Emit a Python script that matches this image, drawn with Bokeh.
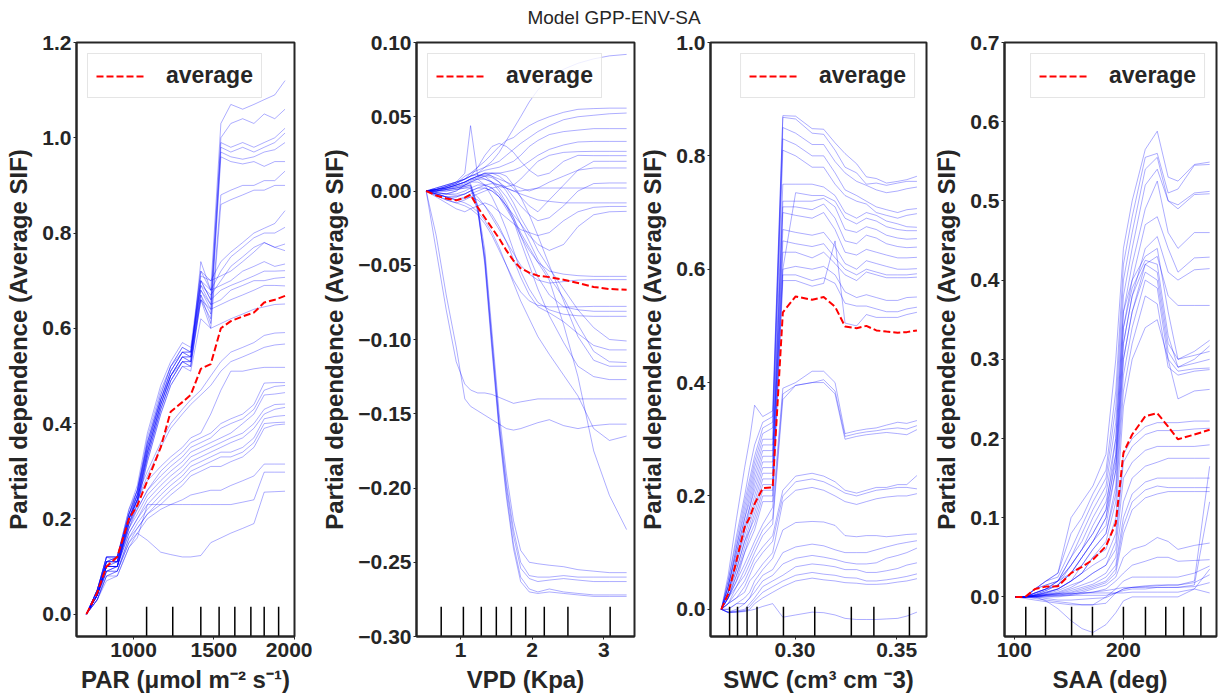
from bokeh.plotting import figure
from bokeh.models import FixedTicker, CustomJSTickFormatter, Range1d, Div
from bokeh.layouts import row, column
from bokeh.embed import file_html
from bokeh.resources import INLINE

# ---------------- DATA ----------------
TITLE = "Model GPP-ENV-SA"
YLABEL = "Partial dependence (Average SIF)"

# Panel 1: PAR
PAR_GRID = [706, 773, 831, 898, 971, 1023, 1086, 1169, 1231, 1304, 1356, 1419, 1481, 1544, 1606, 1680, 1750, 1814, 1880, 1944]
PAR_AVG = [0, .045, .10, .12, .20, .228, .28, .35, .425, .445, .46, .515, .525, .60, .615, .625, .633, .654, .66, .668]
PAR_DECILES = [831, 1081, 1244, 1419, 1533, 1631, 1731, 1814, 1904]
PAR_ICE = [
    [0, .05, .12, .12, .22, .27, .38, .48, .53, .57, .56, .72, .68, 1.03, 1.07, 1.06, 1.07, 1.08, 1.09, 1.12],
    [0, .05, .12, .11, .21, .26, .37, .47, .52, .56, .55, .70, .66, 1.00, 1.03, 1.04, 1.03, 1.05, 1.04, 1.06],
    [0, .05, .11, .12, .22, .26, .36, .46, .52, .55, .55, .69, .65, .99, .98, .99, .98, .99, 1.00, 1.02],
    [0, .04, .11, .11, .21, .25, .36, .45, .51, .55, .54, .68, .64, .98, .97, .98, .97, .98, .99, 1.01],
    [0, .04, .10, .11, .20, .25, .35, .45, .50, .54, .54, .67, .63, .97, .96, .955, .96, .97, .975, .99],
    [0, .04, .10, .10, .20, .24, .34, .44, .50, .54, .53, .66, .62, .96, .95, .945, .95, .94, .95, .95],
    [0, .04, .10, .10, .20, .24, .34, .44, .50, .53, .53, .67, .61, .88, .89, .90, .90, .91, .91, .93],
    [0, .04, .10, .10, .19, .24, .33, .43, .49, .53, .52, .66, .60, .86, .87, .88, .89, .89, .90, .90],
    [0, .05, .12, .12, .21, .26, .36, .46, .52, .56, .55, .71, .70, .74, .76, .78, .80, .81, .82, .847],
    [0, .05, .11, .12, .21, .26, .35, .45, .51, .55, .55, .70, .68, .72, .75, .77, .79, .80, .80, .812],
    [0, .04, .11, .11, .20, .25, .35, .45, .51, .55, .54, .69, .67, .70, .73, .75, .77, .78, .77, .777],
    [0, .04, .11, .11, .20, .25, .34, .44, .50, .54, .54, .72, .70, .71, .72, .74, .76, .78, .77, .763],
    [0, .04, .10, .11, .20, .24, .34, .44, .50, .54, .53, .74, .68, .69, .70, .72, .73, .74, .73, .735],
    [0, .04, .10, .10, .19, .24, .33, .43, .49, .53, .53, .70, .66, .68, .69, .70, .71, .72, .72, .721],
    [0, .04, .10, .10, .19, .23, .33, .43, .49, .53, .52, .68, .65, .66, .68, .69, .70, .70, .705, .707],
    [0, .04, .09, .10, .19, .23, .32, .42, .48, .52, .52, .66, .64, .65, .66, .67, .68, .69, .69, .689],
    [0, .04, .09, .10, .18, .23, .32, .42, .48, .52, .51, .62, .60, .61, .62, .63, .64, .645, .65, .651],
    [0, .05, .12, .12, .21, .25, .30, .36, .40, .43, .45, .47, .50, .53, .55, .56, .57, .585, .59, .591],
    [0, .05, .11, .12, .20, .24, .29, .35, .39, .42, .44, .46, .48, .51, .53, .54, .55, .56, .565, .567],
    [0, .05, .12, .12, .20, .24, .28, .31, .33, .35, .37, .38, .42, .47, .51, .51, .515, .518, .518, .518],
    [0, .05, .11, .11, .19, .22, .26, .30, .32, .34, .36, .37, .38, .40, .41, .42, .44, .485, .486, .486],
    [0, .04, .11, .11, .18, .22, .26, .29, .31, .33, .35, .36, .37, .39, .40, .41, .43, .47, .478, .48],
    [0, .04, .10, .10, .18, .21, .25, .28, .30, .32, .34, .35, .36, .37, .38, .40, .42, .46, .462, .465],
    [0, .04, .10, .10, .17, .20, .24, .27, .29, .31, .33, .34, .35, .36, .37, .38, .40, .43, .44, .441],
    [0, .04, .09, .10, .17, .20, .23, .26, .28, .30, .32, .33, .34, .35, .36, .37, .39, .42, .43, .434],
    [0, .04, .09, .09, .16, .19, .22, .25, .27, .29, .31, .32, .33, .34, .34, .35, .37, .41, .415, .417],
    [0, .03, .09, .09, .16, .18, .21, .24, .26, .28, .30, .31, .32, .33, .33, .34, .36, .40, .402, .403],
    [0, .03, .08, .09, .15, .18, .21, .23, .25, .27, .29, .30, .31, .31, .32, .33, .35, .39, .397, .399],
    [0, .03, .08, .09, .15, .17, .20, .22, .23, .24, .25, .255, .26, .26, .27, .28, .29, .315, .315, .315],
    [0, .03, .08, .08, .14, .16, .23, .23, .23, .23, .23, .23, .23, .23, .23, .235, .24, .298, .298, .298],
    [0, .03, .07, .08, .14, .17, .155, .13, .125, .12, .12, .123, .15, .16, .17, .18, .19, .256, .257, .258],
]

# Panel 2: VPD
VPD_GRID = [0.52, 0.66, 0.80, 0.94, 1.06, 1.14, 1.24, 1.34, 1.44, 1.54, 1.64, 1.74, 1.84, 1.96, 2.08, 2.24, 2.44, 2.64, 2.86, 3.08, 3.32]
VPD_AVG = [0, -.003, -.005, -.0063, -.0045, -.0025, -.011, -.018, -.025, -.032, -.040, -.047, -.052, -.055, -.057, -.058, -.0597, -.062, -.0646, -.066, -.0665]
VPD_DECILES = [0.73, 1.04, 1.29, 1.50, 1.71, 1.91, 2.17, 2.50, 3.09]
VPD_ICE = [
    [0, .002, .004, .006, .008, .010, .012, .016, .020, .026, .034, .042, .050, .060, .068, .076, .082, .086, .089, .091, .092],
    [0, .002, .004, .006, .008, .012, .016, .020, .025, .030, .034, .036, .040, .044, .047, .050, .053, .055, .0555, .0558, .0558],
    [0, .001, .003, .005, .010, .012, .014, .016, .018, .020, .024, .028, .032, .036, .040, .044, .048, .050, .051, .052, .0525],
    [0, .001, .003, .005, .008, .010, .012, .014, .015, .016, .018, .020, .024, .030, .034, .038, .040, .041, .042, .042, .042],
    [0, .001, .002, .004, .006, .008, .010, .012, .012, .012, .013, .014, .016, .020, .024, .028, .031, .033, .0334, .0334, .0334],
    [0, .002, .004, .006, .012, .044, .010, .008, .006, .004, .003, .004, .008, .014, .020, .024, .026, .0265, .0267, .0267, .0267],
    [0, .001, .003, .006, .008, .010, .016, .024, .030, .032, .030, .026, .020, .014, .010, .012, .020, .024, .0238, .0238, .0238],
    [0, .001, .002, .004, .006, .008, .010, .012, .012, .010, .006, .002, -.004, -.010, -.014, -.006, .004, .014, .020, .020, .020],
    [0, 0, .002, .004, .006, .008, .010, .011, .010, .008, .006, .004, .002, 0, .002, .006, .010, .014, .0155, .0155, .0155],
    [0, 0, .001, .003, .005, .007, .009, .010, .009, .006, .002, -.004, -.010, -.016, -.020, -.018, -.010, 0, .005, .0054, .0054],
    [0, -.002, -.004, -.004, -.002, 0, .002, .004, .005, .004, .002, 0, 0, .001, .002, .002, .002, .002, .002, .002, .002],
    [0, -.003, -.006, -.008, -.006, -.004, -.002, 0, .002, .003, .002, 0, -.002, -.004, -.006, -.007, -.008, -.008, -.008, -.008, -.008],
    [0, -.004, -.008, -.012, -.014, -.012, -.010, -.008, -.010, -.014, -.018, -.022, -.026, -.028, -.030, -.028, -.020, -.014, -.011, -.0104, -.0104],
    [0, -.002, -.004, -.006, -.004, -.002, 0, .002, 0, -.004, -.010, -.016, -.022, -.030, -.036, -.040, -.036, -.024, -.016, -.014, -.0137],
    [0, -.001, -.002, 0, .004, .006, .006, .004, .002, -.004, -.012, -.020, -.030, -.040, -.048, -.054, -.056, -.057, -.0575, -.0575, -.0575],
    [0, -.002, -.004, -.004, -.002, 0, -.004, -.010, -.018, -.026, -.034, -.042, -.050, -.056, -.060, -.062, -.061, -.060, -.0597, -.0597, -.0597],
    [0, -.003, -.006, -.008, -.010, -.012, -.016, -.022, -.030, -.040, -.050, -.060, -.068, -.074, -.077, -.078, -.078, -.078, -.0777, -.0777, -.0777],
    [0, .001, .003, .005, .008, .010, .011, .010, .006, 0, -.008, -.018, -.030, -.044, -.058, -.070, -.078, -.080, -.081, -.081, -.081],
    [0, 0, .002, .004, .006, .008, .008, .004, -.004, -.014, -.026, -.040, -.054, -.066, -.075, -.080, -.083, -.084, -.0844, -.0844, -.0844],
    [0, .001, .002, .004, .006, .008, .010, .012, .010, .006, 0, -.008, -.018, -.028, -.040, -.052, -.066, -.080, -.092, -.100, -.101],
    [0, -.002, -.004, -.006, -.005, -.004, -.006, -.010, -.016, -.024, -.034, -.046, -.058, -.070, -.078, -.082, -.088, -.096, -.104, -.107, -.107],
    [0, -.002, -.002, 0, .004, .006, .008, .008, .006, .002, -.004, -.012, -.022, -.034, -.046, -.058, -.072, -.090, -.108, -.115, -.1155],
    [0, 0, .001, .002, .004, .006, .008, .010, .012, .012, .010, .004, -.004, -.016, -.030, -.050, -.074, -.098, -.114, -.118, -.118],
    [0, -.001, -.002, -.002, 0, .002, .004, .004, .002, -.002, -.010, -.020, -.034, -.050, -.066, -.084, -.102, -.118, -.125, -.127, -.127],
    [0, -.040, -.080, -.115, -.130, -.134, -.136, -.136, -.137, -.139, -.141, -.143, -.142, -.141, -.140, -.140, -.140, -.140, -.140, -.140, -.140],
    [0, -.030, -.070, -.105, -.140, -.145, -.148, -.151, -.154, -.157, -.160, -.161, -.160, -.158, -.156, -.154, -.158, -.160, -.158, -.157, -.157],
    [0, -.002, -.004, -.006, -.008, -.010, -.014, -.020, -.028, -.038, -.050, -.062, -.074, -.086, -.098, -.110, -.124, -.138, -.160, -.168, -.165],
    [0, -.001, -.002, -.003, -.002, 0, .002, .002, 0, -.004, -.010, -.018, -.028, -.038, -.048, -.060, -.090, -.125, -.175, -.205, -.228],
    [0, .001, .002, .003, .004, .005, -.010, -.040, -.095, -.150, -.190, -.222, -.242, -.250, -.251, -.252, -.253, -.255, -.256, -.257, -.257],
    [0, 0, .001, .002, .003, .004, -.012, -.044, -.100, -.155, -.196, -.228, -.250, -.259, -.260, -.260, -.259, -.260, -.260, -.260, -.260],
    [0, 0, 0, .001, .002, .002, -.014, -.046, -.102, -.158, -.199, -.232, -.254, -.261, -.263, -.262, -.261, -.262, -.263, -.263, -.263],
    [0, 0, 0, .001, .002, .003, -.012, -.048, -.105, -.160, -.203, -.238, -.260, -.268, -.270, -.268, -.270, -.271, -.272, -.272, -.272],
    [0, 0, .001, .002, .003, .004, -.010, -.050, -.108, -.162, -.206, -.241, -.263, -.270, -.271, -.270, -.271, -.272, -.273, -.273, -.273],
]

# Panel 3: SWC
SWC_GRID = [0.2637, 0.2671, 0.2712, 0.2752, 0.2777, 0.2801, 0.2841, 0.2890, 0.2940, 0.3003, 0.3084, 0.3141, 0.3197, 0.3246, 0.3303, 0.3351, 0.3400, 0.3450, 0.3505, 0.3550, 0.3600]
SWC_AVG = [0, .027, .086, .145, .162, .186, .2136, .215, .524, .552, .546, .551, .534, .499, .496, .500, .492, .490, .488, .489, .492]
SWC_DECILES = [0.2678, 0.2717, 0.2764, 0.2813, 0.2943, 0.3097, 0.3277, 0.3388, 0.3563]
SWC_ICE = [
    [0, .06, .16, .25, .30, .36, .34, .35, .871, .870, .848, .847, .823, .804, .786, .763, .760, .752, .755, .758, .764],
    [0, .05, .13, .20, .25, .29, .33, .34, .868, .865, .840, .838, .810, .780, .770, .750, .752, .748, .752, .755, .755],
    [0, .05, .12, .19, .23, .27, .32, .33, .850, .840, .820, .820, .790, .770, .755, .748, .740, .735, .738, .742, .745],
    [0, .04, .11, .18, .22, .26, .31, .32, .830, .820, .800, .800, .770, .740, .730, .720, .710, .705, .700, .705, .707],
    [0, .04, .11, .17, .21, .25, .30, .30, .810, .800, .780, .780, .750, .730, .720, .715, .700, .695, .690, .695, .698],
    [0, .04, .10, .16, .20, .24, .29, .29, .750, .750, .750, .745, .730, .700, .690, .700, .695, .685, .680, .675, .674],
    [0, .04, .10, .16, .19, .23, .28, .28, .600, .735, .730, .730, .720, .690, .680, .690, .685, .675, .670, .668, .668],
    [0, .03, .09, .15, .18, .22, .27, .27, .720, .720, .720, .725, .710, .670, .665, .675, .670, .660, .655, .653, .654],
    [0, .03, .09, .14, .18, .21, .26, .26, .710, .710, .705, .715, .690, .650, .645, .660, .655, .645, .640, .638, .639],
    [0, .03, .08, .14, .17, .20, .25, .25, .700, .695, .690, .700, .670, .630, .625, .635, .630, .625, .620, .620, .621],
    [0, .03, .08, .13, .16, .19, .24, .24, .670, .665, .660, .665, .640, .610, .600, .615, .610, .605, .600, .600, .601],
    [0, .03, .07, .12, .15, .18, .23, .23, .650, .645, .640, .645, .620, .600, .590, .600, .595, .590, .590, .590, .592],
    [0, .02, .07, .12, .14, .17, .22, .22, .630, .630, .620, .630, .610, .590, .580, .595, .590, .585, .585, .585, .586],
    [0, .02, .06, .11, .14, .16, .21, .21, .600, .605, .600, .605, .590, .560, .550, .555, .550, .545, .545, .550, .551],
    [0, .02, .06, .10, .13, .15, .20, .20, .590, .590, .580, .585, .575, .540, .535, .535, .530, .525, .525, .530, .533],
    [0, .02, .05, .10, .12, .14, .19, .19, .580, .580, .570, .575, .650, .505, .500, .520, .515, .515, .515, .520, .524],
    [0, .02, .05, .08, .10, .12, .15, .18, .39, .40, .42, .42, .40, .31, .315, .318, .32, .325, .33, .328, .333],
    [0, .02, .04, .07, .09, .11, .14, .16, .38, .395, .40, .405, .385, .305, .31, .313, .315, .318, .32, .318, .324],
    [0, .01, .04, .06, .08, .10, .13, .15, .37, .395, .40, .40, .38, .30, .305, .308, .31, .312, .31, .308, .317],
    [0, .01, .03, .05, .07, .09, .11, .13, .21, .235, .24, .235, .225, .21, .205, .21, .215, .215, .22, .22, .236],
    [0, .01, .02, .04, .06, .08, .10, .12, .20, .225, .23, .225, .215, .205, .20, .205, .21, .212, .215, .215, .2125],
    [0, .01, .02, .03, .05, .06, .08, .10, .19, .21, .215, .21, .20, .19, .185, .19, .195, .198, .20, .20, .204],
    [0, 0, .01, .02, .03, .05, .07, .09, .14, .153, .155, .154, .148, .13, .128, .13, .13, .128, .13, .132, .133],
    [0, 0, .01, .01, .02, .04, .06, .07, .10, .11, .115, .112, .105, .10, .10, .10, .105, .11, .115, .118, .121],
    [0, -.005, 0, .01, .02, .03, .05, .06, .08, .09, .095, .092, .088, .083, .08, .08, .082, .09, .095, .10, .108],
    [0, -.005, -.003, 0, .01, .02, .04, .05, .06, .075, .08, .078, .075, .07, .07, .065, .065, .068, .072, .078, .082],
    [0, -.006, -.004, -.002, .005, .015, .03, .04, .05, .06, .065, .062, .06, .056, .055, .05, .05, .052, .055, .058, .0625],
    [0, -.006, -.005, -.003, 0, .01, .02, .03, .04, .05, .055, .052, .05, .047, .046, .044, .044, .045, .048, .05, .054],
    [0, -.005, -.005, -.004, -.002, 0, .005, .01, -.014, -.010, -.005, -.006, -.010, -.016, -.018, -.018, -.018, -.017, -.016, -.012, -.005],
]

# Panel 4: SAA
SAA_GRID = [101, 110, 119, 129, 140, 152, 162, 172, 184, 193, 200, 208, 220, 231, 241, 250, 265, 279]
SAA_AVG = [0, 0, .010, .013, .0134, .030, .038, .047, .064, .093, .182, .205, .228, .232, .215, .199, .205, .211]
SAA_DECILES = [110.5, 128.6, 152.5, 171.6, 200, 220.2, 238.8, 255.2, 271]
SAA_ICE = [
    [0, 0, .01, .02, .03, .10, .12, .14, .18, .30, .44, .50, .565, .588, .53, .525, .546, .549],
    [0, 0, .01, .02, .03, .08, .10, .13, .16, .26, .42, .48, .555, .56, .51, .515, .545, .546],
    [0, 0, .01, .02, .025, .06, .09, .12, .15, .24, .40, .46, .54, .555, .50, .495, .51, .512],
    [0, 0, .01, .015, .02, .05, .08, .11, .14, .22, .38, .44, .52, .54, .50, .49, .508, .509],
    [0, 0, .01, .015, .02, .05, .07, .10, .13, .20, .36, .42, .49, .525, .46, .44, .46, .46],
    [0, 0, .005, .01, .02, .04, .06, .09, .12, .18, .34, .40, .47, .48, .44, .41, .428, .429],
    [0, 0, .005, .01, .015, .04, .06, .08, .11, .17, .32, .38, .44, .455, .41, .40, .413, .4145],
    [0, 0, .005, .01, .015, .03, .05, .07, .10, .16, .30, .36, .42, .43, .38, .368, .368, .368],
    [0, 0, .005, .01, .02, .04, .06, .08, .11, .20, .36, .40, .43, .44, .36, .30, .31, .324],
    [0, 0, .005, .01, .02, .03, .05, .07, .10, .18, .34, .39, .425, .42, .33, .29, .30, .317],
    [0, 0, .003, .008, .015, .03, .05, .07, .09, .16, .32, .38, .42, .41, .32, .30, .305, .31],
    [0, 0, .003, .008, .015, .03, .04, .06, .08, .14, .30, .36, .41, .40, .31, .29, .295, .30],
    [0, 0, .002, .006, .01, .02, .04, .06, .08, .13, .28, .34, .40, .39, .30, .285, .288, .289],
    [0, 0, .002, .006, .01, .02, .03, .05, .07, .12, .26, .32, .38, .37, .29, .28, .285, .287],
    [0, 0, .002, .005, .01, .02, .03, .05, .06, .10, .24, .30, .34, .35, .30, .25, .26, .262],
    [0, 0, .002, .005, .01, .02, .03, .04, .05, .08, .18, .20, .215, .22, .22, .22, .222, .222],
    [0, 0, .002, .004, .008, .015, .02, .03, .04, .07, .17, .19, .205, .21, .21, .21, .212, .213],
    [0, 0, .001, .003, .006, .012, .02, .03, .04, .06, .15, .17, .185, .19, .19, .19, .19, .192],
    [0, 0, .001, .003, .005, .01, .015, .02, .03, .05, .12, .15, .165, .17, .175, .175, .175, .175],
    [0, 0, 0, .002, .004, .008, .012, .016, .025, .04, .10, .13, .145, .15, .15, .15, .15, .15],
    [0, 0, 0, .002, .004, .006, .01, .014, .02, .035, .09, .12, .135, .14, .138, .138, .138, .138],
    [0, 0, 0, .001, .002, .005, .008, .012, .018, .03, .08, .11, .125, .13, .133, .133, .133, .133],
    [0, 0, 0, 0, .001, .003, .006, .01, .015, .025, .05, .06, .065, .075, .07, .06, .065, .068],
    [0, -.002, -.004, -.006, -.008, -.010, -.010, -.010, -.008, .005, .01, .012, .013, .014, .015, .015, .02, .165],
    [0, 0, 0, 0, 0, .002, .004, .006, .01, .02, .03, .04, .045, .05, .05, .045, .046, .047],
    [0, 0, -.002, -.004, -.006, -.008, -.01, -.01, 0, .01, .02, .025, .025, .025, .025, .025, .03, .039],
    [0, 0, 0, -.002, -.004, -.004, -.003, -.002, -.001, .005, .01, .012, .014, .015, .015, .015, .018, .028],
    [0, 0, .001, .002, .002, .002, .002, .002, .002, .005, .008, .01, .01, .012, .012, .012, .013, .018],
    [0, 0, .002, .003, .004, .004, .005, .005, .005, .005, .005, .006, .006, .006, .006, .006, .01, .005],
    [0, 0, 0, -.005, -.015, -.03, -.04, -.045, -.035, -.02, -.005, 0, 0, 0, 0, 0, .01, .035],
    [0, 0, .001, .002, .003, .004, .005, .006, .008, .010, .012, .012, .012, .012, .012, .012, .015, .12],
]

# ---------------- STYLE / BUILD ----------------
FONT = "Liberation Sans"
TXT = "#262626"
FIG_H = 670


def fmt(dec):
    return CustomJSTickFormatter(code="return tick.toFixed(%d).replace('-', '\\u2212');" % dec)


def panel(width, bl, br, xr, yr, xticks, xdec, yticks, ydec, xlabel,
          grid, ice, avg, deciles, legend_loc):
    p = figure(width=width, height=FIG_H, x_range=Range1d(*xr), y_range=Range1d(*yr),
               output_backend="svg", toolbar_location=None,
               min_border_left=bl, min_border_right=br,
               min_border_top=13, min_border_bottom=63)
    p.xgrid.visible = False
    p.ygrid.visible = False
    p.background_fill_color = "white"
    p.border_fill_color = "white"
    p.outline_line_color = TXT
    p.outline_line_width = 2
    p.outline_line_alpha = 1

    xs = [grid[:len(y)] for y in ice]
    p.multi_line(xs=xs, ys=ice, line_color="blue", line_alpha=0.32, line_width=1)
    p.line(grid, avg, line_color="red", line_dash="7 3", line_width=2, legend_label="average")

    p.extra_y_ranges = {"rug": Range1d(0, 1)}
    n = len(deciles)
    p.segment(x0=deciles, x1=deciles, y0=[0] * n, y1=[0.05] * n,
              y_range_name="rug", line_color="black", line_width=1.5)

    p.xaxis.ticker = FixedTicker(ticks=xticks)
    p.yaxis.ticker = FixedTicker(ticks=yticks)
    p.xaxis.formatter = fmt(xdec)
    p.yaxis.formatter = fmt(ydec)
    p.xaxis.axis_label = xlabel
    p.yaxis.axis_label = YLABEL
    for ax in (p.xaxis[0], p.yaxis[0]):
        ax.major_label_text_font = FONT
        ax.major_label_text_font_size = "21px"
        ax.major_label_text_font_style = "bold"
        ax.major_label_text_color = TXT
        ax.axis_label_text_font = FONT
        ax.axis_label_text_font_size = "24px"
        ax.axis_label_text_font_style = "bold"
        ax.axis_label_text_color = TXT
        ax.axis_line_color = TXT
        ax.axis_line_width = 2
        ax.major_tick_out = 3
        ax.major_tick_in = 0
        ax.major_tick_line_color = TXT
        ax.minor_tick_out = 0
        ax.minor_tick_in = 0
    p.xaxis.major_label_standoff = 3
    p.yaxis.major_label_standoff = 2
    p.xaxis.axis_label_standoff = 6
    p.yaxis.axis_label_standoff = 7

    lg = p.legend[0]
    lg.location = legend_loc
    lg.margin = 11
    lg.padding = 8
    lg.spacing = 0
    lg.glyph_width = 50
    lg.glyph_height = 22
    lg.label_height = 22
    lg.label_standoff = 20
    lg.label_text_font = FONT
    lg.label_text_font_size = "23px"
    lg.label_text_font_style = "bold"
    lg.label_text_color = TXT
    lg.border_line_color = "#cccccc"
    lg.border_line_width = 1
    lg.background_fill_color = "white"
    lg.background_fill_alpha = 0.8
    return p


p1 = panel(312, 76, 18, (644, 2003), (-0.047, 1.2), [1000, 1500, 2000], 0,
           [0, 0.2, 0.4, 0.6, 0.8, 1.0, 1.2], 1, "PAR (μmol m⁻² s⁻¹)",
           PAR_GRID, PAR_ICE, PAR_AVG, PAR_DECILES, "top_left")
p2 = panel(324, 104, 2, (0.385, 3.43), (-0.30, 0.10), [1, 2, 3], 0,
           [-0.30, -0.25, -0.20, -0.15, -0.10, -0.05, 0.0, 0.05, 0.10], 2, "VPD (Kpa)",
           VPD_GRID, VPD_ICE, VPD_AVG, VPD_DECILES, "top_left")
p3 = panel(294, 71, 4, (0.2584, 0.3647), (-0.048, 1.0), [0.30, 0.35], 2,
           [0, 0.2, 0.4, 0.6, 0.8, 1.0], 1, "SWC (cm³ cm ⁻3)",
           SWC_GRID, SWC_ICE, SWC_AVG, SWC_DECILES, "top_right")
p4 = panel(288, 69, 2, (91, 285.3), (-0.05, 0.70), [100, 200], 0,
           [0, 0.1, 0.2, 0.3, 0.4, 0.5, 0.6, 0.7], 1, "SAA (deg)",
           SAA_GRID, SAA_ICE, SAA_AVG, SAA_DECILES, "top_right")

title = Div(text=('<div style="width:1218px;text-align:center;font-family:\'Liberation Sans\',Arial,sans-serif;'
                  'font-size:19px;line-height:22px;padding-top:7px;color:#262626;padding-left:10px;'
                  'box-sizing:border-box;">' + TITLE + '</div>'),
            width=1218, height=29, margin=0)

layout = column(title, row(p1, p2, p3, p4))
open("out.html", "w").write(file_html(layout, INLINE))
